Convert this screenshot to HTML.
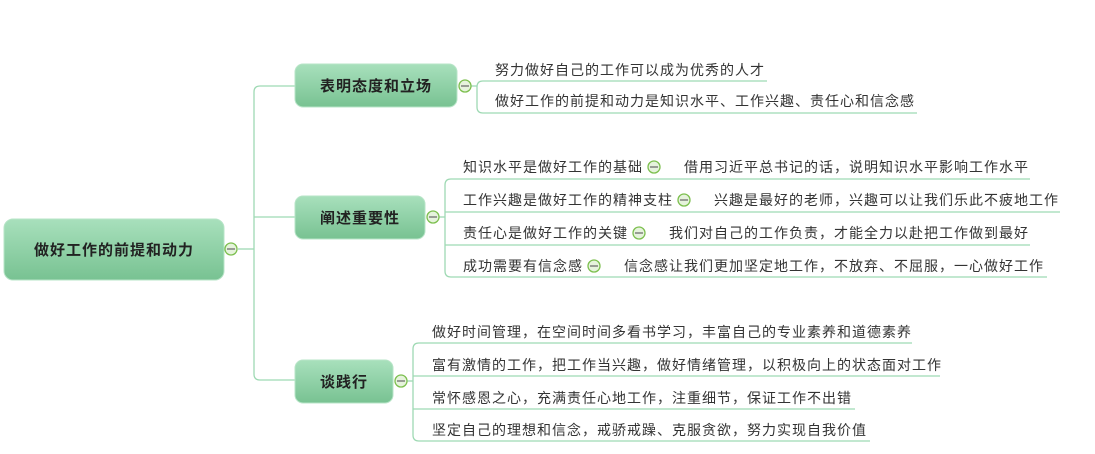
<!DOCTYPE html>
<html><head><meta charset="utf-8"><style>
body{margin:0;background:#fff;}
svg{display:block;font-family:"Liberation Sans","Noto Sans CJK SC",sans-serif;}
.t{font-size:14px;fill:#333;letter-spacing:1px;}
.b{font-size:15px;font-weight:bold;fill:#222;}
</style></head><body>
<svg width="1095" height="454" viewBox="0 0 1095 454">
<defs>
<linearGradient id="g" x1="0" y1="0" x2="0" y2="1">
<stop offset="0" stop-color="#a8e0bc"/><stop offset="1" stop-color="#78c292"/>
</linearGradient>
</defs>
<g fill="none" stroke="#9ed9b3" stroke-width="1.3">
<path d="M238 249 H254"/>
<path d="M295 86 H260 Q254 86 254 92 V374 Q254 380 260 380 H295"/>
<path d="M254 217 H295"/>
<path d="M470 86 H477"/>
<path d="M767 81 H483 Q477 81 477 87 V107 Q477 113 483 113 H917"/>
<path d="M438 217 H445"/>
<path d="M1030 179 H451 Q445 179 445 185 V271 Q445 277 451 277 H1047"/>
<path d="M445 212 H1060"/>
<path d="M445 245 H1030"/>
<path d="M406 381 H413"/>
<path d="M912 343 H419 Q413 343 413 349 V435 Q413 441 419 441 H870"/>
<path d="M413 376 H940"/>
<path d="M413 409 H855"/>
</g>
<rect x="4" y="219" width="220" height="61" rx="9" fill="url(#g)" stroke="#b7e4c7"/>
<text x="114" y="255" class="b" text-anchor="middle" letter-spacing="1">做好工作的前提和动力</text>
<rect x="295" y="64" width="162" height="43" rx="8" fill="url(#g)" stroke="#b7e4c7"/>
<text x="376" y="91" class="b" text-anchor="middle" letter-spacing="1">表明态度和立场</text>
<rect x="295" y="196" width="130" height="43" rx="8" fill="url(#g)" stroke="#b7e4c7"/>
<text x="360" y="223" class="b" text-anchor="middle" letter-spacing="1">阐述重要性</text>
<rect x="295" y="360" width="98" height="43" rx="8" fill="url(#g)" stroke="#b7e4c7"/>
<text x="344" y="387" class="b" text-anchor="middle" letter-spacing="1">谈践行</text>
<g fill="#e6f3dc" stroke="#7cbf4e" stroke-width="1.3">
<circle cx="231" cy="249" r="6"/><circle cx="465" cy="86" r="6"/>
<circle cx="433" cy="217" r="6"/><circle cx="401" cy="381" r="6"/>
<circle cx="654" cy="167" r="6"/><circle cx="684" cy="200" r="6"/>
<circle cx="639" cy="233" r="6"/><circle cx="594" cy="266" r="6"/>
</g>
<g stroke="#6a6a6a" stroke-width="1.3">
<path d="M227 249h8M461 86h8M429 217h8M397 381h8M650 167h8M680 200h8M635 233h8M590 266h8"/>
</g>
<text x="495" y="75" class="t">努力做好自己的工作可以成为优秀的人才</text>
<text x="495" y="106" class="t">做好工作的前提和动力是知识水平、工作兴趣、责任心和信念感</text>
<text x="463" y="172" class="t">知识水平是做好工作的基础</text>
<text x="684" y="172" class="t">借用习近平总书记的话，说明知识水平影响工作水平</text>
<text x="463" y="205" class="t">工作兴趣是做好工作的精神支柱</text>
<text x="714" y="205" class="t">兴趣是最好的老师，兴趣可以让我们乐此不疲地工作</text>
<text x="463" y="238" class="t">责任心是做好工作的关键</text>
<text x="669" y="238" class="t">我们对自己的工作负责，才能全力以赴把工作做到最好</text>
<text x="463" y="271" class="t">成功需要有信念感</text>
<text x="624" y="271" class="t">信念感让我们更加坚定地工作，不放弃、不屈服，一心做好工作</text>
<text x="432" y="337" class="t">做好时间管理，在空间时间多看书学习，丰富自己的专业素养和道德素养</text>
<text x="432" y="370" class="t">富有激情的工作，把工作当兴趣，做好情绪管理，以积极向上的状态面对工作</text>
<text x="432" y="403" class="t">常怀感恩之心，充满责任心地工作，注重细节，保证工作不出错</text>
<text x="432" y="435" class="t">坚定自己的理想和信念，戒骄戒躁、克服贪欲，努力实现自我价值</text>
</svg>
</body></html>
